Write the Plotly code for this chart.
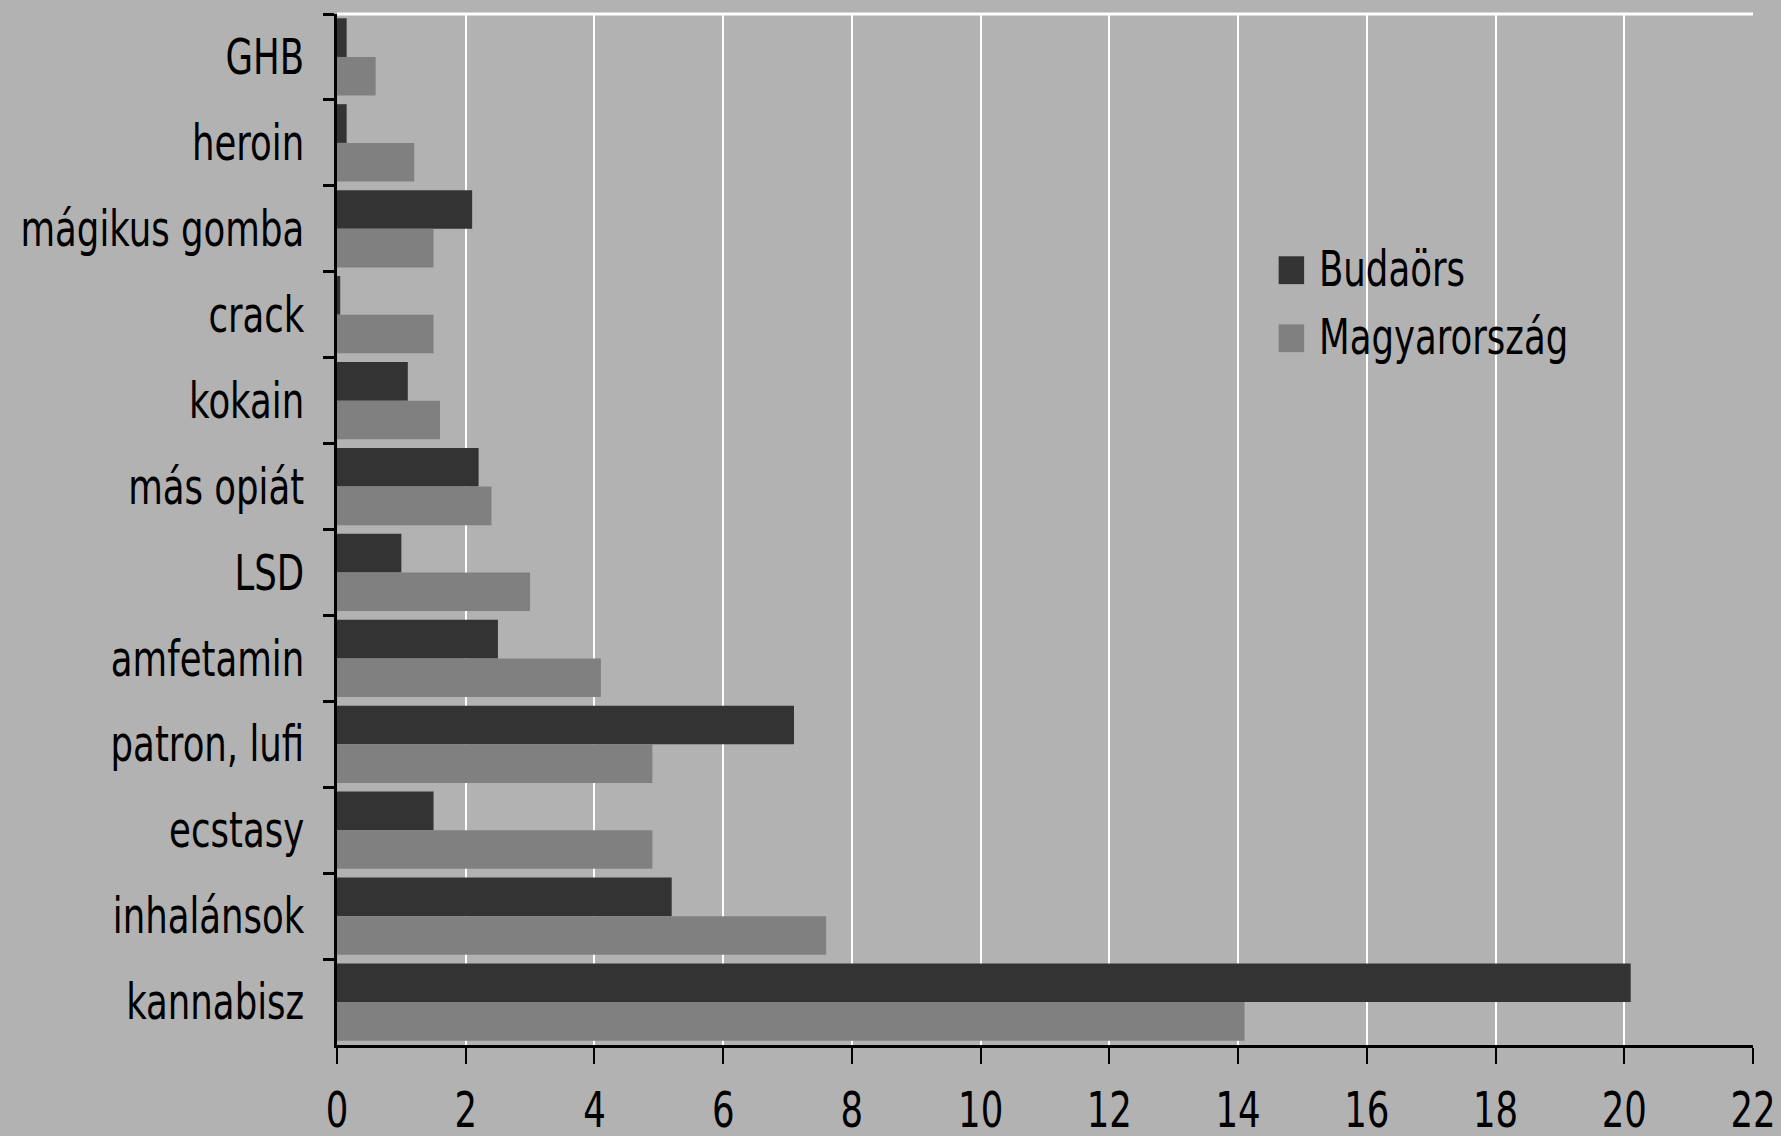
import plotly.graph_objects as go

# Drug categories (top to bottom) and prevalence values in percent
categories = ["GHB", "heroin", "mágikus gomba", "crack", "kokain", "más opiát",
              "LSD", "amfetamin", "patron, lufi", "ecstasy", "inhalánsok", "kannabisz"]
budaors = [0.15, 0.15, 2.1, 0.05, 1.1, 2.2, 1.0, 2.5, 7.1, 1.5, 5.2, 20.1]
magyarorszag = [0.6, 1.2, 1.5, 1.5, 1.6, 2.4, 3.0, 4.1, 4.9, 4.9, 7.6, 14.1]
x_ticks = list(range(0, 23, 2))
series_names = ["Budaörs", "Magyarország"]
series_colors = ["#333333", "#808080"]

FONT = "DejaVu Sans, Verdana, sans-serif"
FSIZE = 49
BG = "#B2B2B2"

fig = go.Figure()
for name, vals, col in zip(series_names, [budaors, magyarorszag], series_colors):
    fig.add_trace(go.Bar(y=categories, x=vals, orientation="h", name=name,
                         marker=dict(color=col, line=dict(width=0)),
                         showlegend=False))

fig.update_layout(
    width=1781, height=1136,
    paper_bgcolor=BG, plot_bgcolor=BG,
    margin=dict(l=337, r=28, t=14, b=91),
    barmode="group", bargap=0.1, bargroupgap=0,
    font=dict(family=FONT, size=FSIZE, color="#000000"),
    xaxis=dict(range=[0, 22], tickvals=x_ticks, ticktext=[str(v) for v in x_ticks],
               showgrid=True, gridcolor="#FFFFFF", gridwidth=2,
               showline=True, linecolor="#000000", linewidth=3,
               ticks="outside", ticklen=16, tickwidth=2, tickcolor="#000000",
               ticklabelstandoff=4, ticklabeloverflow="allow", zeroline=False,
               automargin=False, tickfont=dict(family=FONT, size=FSIZE)),
    yaxis=dict(autorange="reversed", type="category",
               showline=True, linecolor="#000000", linewidth=3,
               ticks="outside", tickson="boundaries", ticklen=11, tickwidth=3,
               tickcolor="#000000", showgrid=False, ticklabelstandoff=20,
               ticklabeloverflow="allow", automargin=False,
               tickfont=dict(family=FONT, size=FSIZE)),
)

# White border along the top edge of the plotting area
fig.add_shape(type="line", xref="paper", yref="paper", x0=0, x1=1, y0=1, y1=1,
              line=dict(color="#FFFFFF", width=3))

# Legend: colour swatches with series names
legend_rows = [(0.765, 0.738, 0.752), (0.699, 0.672, 0.686)]
for (top, bot, mid), name, col in zip(legend_rows, series_names, series_colors):
    fig.add_shape(type="rect", xref="paper", yref="paper",
                  x0=0.665, x1=0.683, y0=bot, y1=top,
                  fillcolor=col, line=dict(width=0))
    fig.add_annotation(xref="paper", yref="paper", x=0.692, y=mid,
                       xanchor="left", yanchor="middle", showarrow=False, align="left",
                       text=name, font=dict(family=FONT, size=FSIZE, color="#000000"))

# Narrow the label glyphs horizontally (condensed look), keeping each label's anchor fixed
squeeze_js = """
var gd = document.getElementById('{plot_id}');
var SX = 0.725;
var re = / ?translate\\([^)]*\\) scale\\([^)]*,1\\) translate\\([^)]*\\)$/;
function squeeze() {
  gd.querySelectorAll('.xtick text, .ytick text, text.annotation-text').forEach(function (t) {
    var tr = (t.getAttribute('transform') || '').replace(re, '');
    t.setAttribute('transform', tr);
    var bb = t.getBBox();
    var anchor = t.getAttribute('text-anchor') || 'start';
    var ax = anchor === 'end' ? bb.x + bb.width : (anchor === 'middle' ? bb.x + bb.width / 2 : bb.x);
    t.setAttribute('transform', tr + ' translate(' + ax + ',0) scale(' + SX + ',1) translate(' + (-ax) + ',0)');
  });
}
squeeze();
gd.on('plotly_afterplot', squeeze);
"""

fig.write_html("out.html", post_script=squeeze_js)
